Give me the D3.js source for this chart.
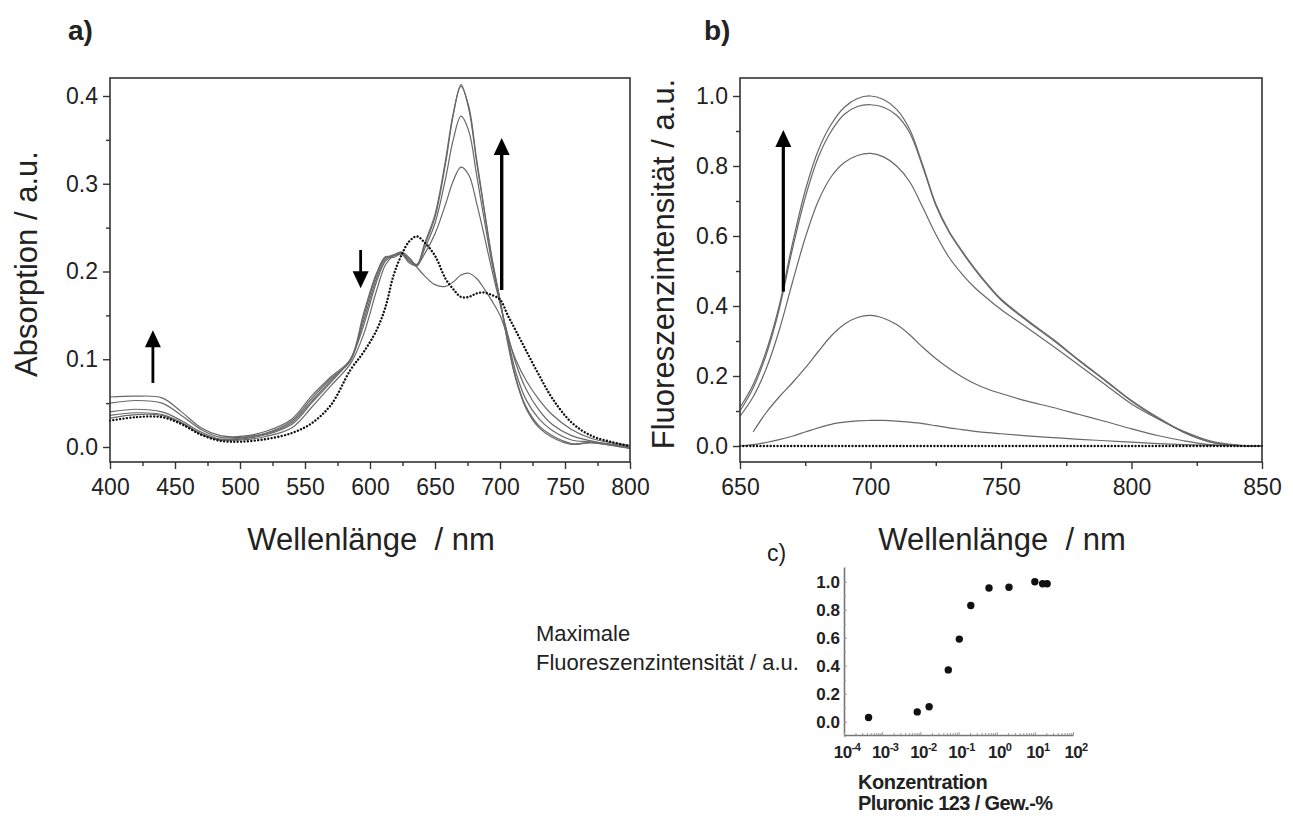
<!DOCTYPE html>
<html>
<head>
<meta charset="utf-8">
<script src="https://cdn.jsdelivr.net/npm/d3@7"></script>
<style>
  body { margin: 0; background: #fff; }
  svg text { font-family: "Liberation Sans", Arial, sans-serif; fill: #222; }
</style>
</head>
<body>
<div id="chart"></div>
<script>
// ---- data: panel a (absorption) ----
var absWl = [400,420,440,455,470,485,500,520,540,555,570,585,595,605,612,618,624,630,636,642,
             650,658,664,670,676,682,688,694,700,706,712,720,730,740,755,770,785,800];
var absDotted = [0.030,0.034,0.034,0.026,0.014,0.007,0.006,0.009,0.016,0.027,0.048,0.088,0.108,0.133,0.160,0.195,0.218,0.234,0.240,0.233,
                 0.218,0.192,0.180,0.171,0.171,0.175,0.176,0.173,0.168,0.150,0.133,0.110,0.082,0.056,0.028,0.013,0.006,0.001];
var absS1 = [0.033,0.037,0.036,0.027,0.015,0.008,0.008,0.012,0.022,0.045,0.070,0.095,0.128,0.178,0.208,0.218,0.222,0.216,0.205,0.195,
             0.185,0.183,0.188,0.196,0.198,0.192,0.180,0.166,0.150,0.125,0.100,0.076,0.054,0.037,0.020,0.010,0.005,0.002];
var absS2 = [0.036,0.039,0.037,0.028,0.015,0.008,0.009,0.014,0.026,0.050,0.074,0.100,0.138,0.188,0.212,0.218,0.220,0.214,0.208,0.220,
             0.243,0.276,0.303,0.319,0.310,0.278,0.240,0.200,0.163,0.128,0.096,0.066,0.042,0.026,0.013,0.007,0.003,0.001];
var absS3 = [0.040,0.043,0.040,0.030,0.017,0.009,0.010,0.015,0.028,0.052,0.076,0.100,0.143,0.192,0.214,0.219,0.221,0.215,0.206,0.226,
             0.255,0.305,0.350,0.377,0.360,0.310,0.258,0.208,0.166,0.124,0.086,0.054,0.032,0.019,0.008,0.006,0.003,0.000];
var absS4 = [0.050,0.053,0.050,0.036,0.020,0.011,0.011,0.016,0.030,0.055,0.078,0.098,0.148,0.196,0.216,0.218,0.222,0.212,0.208,0.230,
             0.262,0.322,0.378,0.413,0.385,0.325,0.268,0.212,0.168,0.120,0.080,0.046,0.024,0.013,0.004,0.005,0.002,-0.001];
var absS5 = [0.057,0.058,0.056,0.040,0.022,0.013,0.012,0.018,0.032,0.058,0.080,0.100,0.152,0.198,0.217,0.216,0.220,0.210,0.207,0.232,
             0.265,0.326,0.380,0.411,0.388,0.328,0.270,0.214,0.168,0.118,0.078,0.044,0.022,0.011,0.003,0.005,0.002,-0.002];

// ---- data: panel b (fluorescence) ----
var fluWl = [650,655,660,665,670,675,680,685,690,695,700,705,710,715,720,725,730,735,740,745,750,760,770,780,790,800,810,820,830,840,850];
var fluDotted = [0,0,0,0,0,0,0,0,0,0,0,0,0,0,0,0,0,0,0,0,0,0,0,0,0,0,0,0,0,0,0];
var fluS1 = [0.000,0.004,0.010,0.018,0.028,0.040,0.052,0.062,0.068,0.072,0.073,0.073,0.071,0.068,0.064,0.058,0.052,0.047,0.042,0.038,
             0.035,0.029,0.024,0.019,0.015,0.011,0.007,0.004,0.002,0.001,0.000];
var fluS2 = [null,0.040,0.095,0.140,0.180,0.223,0.270,0.315,0.348,0.367,0.373,0.365,0.347,0.318,0.282,0.250,0.222,0.198,0.178,0.162,
             0.150,0.128,0.110,0.090,0.070,0.049,0.030,0.015,0.004,0.001,0.000];
var fluS3 = [0.085,0.140,0.220,0.330,0.465,0.595,0.700,0.770,0.810,0.830,0.836,0.826,0.800,0.755,0.682,0.605,0.540,0.492,0.452,0.420,
             0.390,0.338,0.285,0.230,0.175,0.120,0.078,0.042,0.015,0.003,0.000];
var fluS4 = [0.100,0.165,0.260,0.390,0.560,0.710,0.825,0.900,0.948,0.970,0.975,0.968,0.945,0.895,0.798,0.688,0.612,0.555,0.504,0.458,
             0.417,0.357,0.302,0.243,0.186,0.128,0.080,0.039,0.012,0.002,0.000];
var fluS5 = [0.110,0.175,0.270,0.400,0.575,0.730,0.845,0.920,0.968,0.993,1.000,0.990,0.962,0.905,0.803,0.692,0.615,0.558,0.507,0.461,
             0.420,0.360,0.305,0.245,0.188,0.130,0.082,0.040,0.012,0.002,0.000];

// ---- data: panel c (max intensity vs concentration) ----
var concVals = [0.00044,0.0083,0.017,0.054,0.105,0.21,0.63,2.1,10,16,21];
var maxFluVals = [0.03,0.07,0.107,0.37,0.59,0.83,0.955,0.96,1.0,0.985,0.985];

// ---- tick labels ----
var absXTicks = [400,450,500,550,600,650,700,750,800];
var absXMinor = [425,475,525,575,625,675,725,775];
var absYTicks = [0.0,0.1,0.2,0.3,0.4];
var absYMinor = [0.05,0.15,0.25,0.35];
var fluXTicks = [650,700,750,800,850];
var fluXMinor = [675,725,775,825];
var fluYTicks = [0.0,0.2,0.4,0.6,0.8,1.0];
var fluYMinor = [0.1,0.3,0.5,0.7,0.9];
var concXTicks = [1e-4,1e-3,1e-2,1e-1,1,10,100];
var concXExp = ["-4","-3","-2","-1","0","1","2"];
var concYTicks = [0.0,0.2,0.4,0.6,0.8,1.0];
var concYMinor = [-0.1,0.1,0.3,0.5,0.7,0.9];

//Set up the svg canvas:
var svg = d3.select("#chart")
    .append("svg")
    .attr("width", 1293)
    .attr("height", 817);

var frameColor = "#333";
var curveColor = "#686868";

//Draws one of the two spectra panels (frame, axes, curves):
function drawSpectra(x, y, wl, solids, dotted, xt, xm, yt, ym, yTitle, yTitleX) {
    var g = svg.append("g");
    var x0 = x.range()[0], x1 = x.range()[1];
    var y0 = y.range()[0], y1 = y.range()[1];

    var bottom = d3.axisBottom(x).tickValues(xt).tickSize(7).tickSizeOuter(0).tickPadding(10).tickFormat(d3.format("d"));
    var bottomMinor = d3.axisBottom(x).tickValues(xm).tickSize(4).tickSizeOuter(0).tickFormat("");
    var left = d3.axisLeft(y).tickValues(yt).tickSize(7).tickSizeOuter(0).tickPadding(5).tickFormat(d3.format(".1f"));
    var leftMinor = d3.axisLeft(y).tickValues(ym).tickSize(4).tickSizeOuter(0).tickFormat("");

    [[bottom, "translate(0," + y0 + ")"], [bottomMinor, "translate(0," + y0 + ")"],
     [left, "translate(" + x0 + ",0)"], [leftMinor, "translate(" + x0 + ",0)"]].forEach(function(a) {
        var ax = g.append("g").attr("transform", a[1]).call(a[0]);
        ax.select(".domain").remove();
        ax.selectAll("line").attr("stroke", frameColor).attr("stroke-width", 1.4);
        ax.selectAll("text").attr("font-size", 23).attr("font-family", null).attr("fill", "#222");
    });

    var line = d3.line()
        .defined(d => d[1] !== null)
        .x(d => x(d[0]))
        .y(d => y(d[1]))
        .curve(d3.curveCatmullRom.alpha(0.5));

    solids.forEach(function(s) {
        g.append("path")
            .attr("d", line(d3.zip(wl, s)))
            .attr("fill", "none")
            .attr("stroke", curveColor)
            .attr("stroke-width", 1.2);
    });

    g.append("path")
        .attr("d", line(d3.zip(wl, dotted)))
        .attr("fill", "none")
        .attr("stroke", "#111")
        .attr("stroke-width", 2.4)
        .attr("stroke-linecap", "round")
        .attr("stroke-dasharray", "0.01 3.4");

    g.append("rect")
        .attr("x", x0).attr("y", y1)
        .attr("width", x1 - x0).attr("height", y0 - y1)
        .attr("fill", "none")
        .attr("stroke", frameColor)
        .attr("stroke-width", 1.6);

    g.append("text")
        .attr("x", (x0 + x1) / 2 + 1)
        .attr("y", 550)
        .attr("text-anchor", "middle")
        .attr("font-size", 31)
        .style("white-space", "pre")
        .text("Wellenlänge  / nm");

    g.append("text")
        .attr("transform", "translate(" + yTitleX + "," + ((y0 + y1) / 2 - 6) + ") rotate(-90)")
        .attr("text-anchor", "middle")
        .attr("font-size", 31)
        .text(yTitle);
    return g;
}

//Arrow helper (data coordinates through the scales):
function drawArrow(g, x, y, wl, from, to, shaft) {
    var px = x(wl), pFrom = y(from), pTo = y(to);
    var dir = pTo < pFrom ? 1 : -1;   // 1 = pointing up
    var head = 17, half = 8;
    g.append("line")
        .attr("x1", px).attr("x2", px)
        .attr("y1", pFrom).attr("y2", pTo + dir * head * 0.8)
        .attr("stroke", "#000")
        .attr("stroke-width", shaft);
    g.append("path")
        .attr("d", "M" + px + "," + pTo + "L" + (px - half) + "," + (pTo + dir * head) + "L" + (px + half) + "," + (pTo + dir * head) + "Z")
        .attr("fill", "#000");
}

// ---- panel a ----
var xA = d3.scaleLinear().domain([400, 800]).range([110, 630]);
var yA = d3.scaleLinear().domain([-0.0171, 0.4205]).range([462, 78]);
var gA = drawSpectra(xA, yA, absWl, [absS1, absS2, absS3, absS4, absS5], absDotted,
    absXTicks, absXMinor, absYTicks, absYMinor, "Absorption / a.u.", 37);
drawArrow(gA, xA, yA, 433, 0.073, 0.133, 2.8);
drawArrow(gA, xA, yA, 592.8, 0.2245, 0.181, 2.8);
drawArrow(gA, xA, yA, 701.3, 0.179, 0.352, 3.4);

// ---- panel b ----
var xB = d3.scaleLinear().domain([650, 850]).range([740, 1262]);
var yB = d3.scaleLinear().domain([-0.0457, 1.0514]).range([462, 78]);
var gB = drawSpectra(xB, yB, fluWl, [fluS1, fluS2, fluS3, fluS4, fluS5], fluDotted,
    fluXTicks, fluXMinor, fluYTicks, fluYMinor, "Fluoreszenzintensität / a.u.", 674);
drawArrow(gB, xB, yB, 666.6, 0.441, 0.903, 3.2);

// panel letters
svg.append("text").attr("x", 68).attr("y", 40).attr("font-size", 28).attr("font-weight", "bold").text("a)");
svg.append("text").attr("x", 704).attr("y", 40).attr("font-size", 28).attr("font-weight", "bold").text("b)");
svg.append("text").attr("x", 767).attr("y", 561).attr("font-size", 23).text("c)");

// ---- panel c ----
var xC = d3.scaleLog().domain([1e-4, 1e2]).range([844, 1073]);
var yC = d3.scaleLinear().domain([-0.095, 1.105]).range([735, 567]);
var gC = svg.append("g");

var cLeft = gC.append("g").attr("transform", "translate(844,0)")
    .call(d3.axisLeft(yC).tickValues(concYTicks).tickSize(-3).tickSizeOuter(0).tickPadding(4).tickFormat(d3.format(".1f")));
var cLeftMinor = gC.append("g").attr("transform", "translate(844,0)")
    .call(d3.axisLeft(yC).tickValues(concYMinor).tickSize(-2).tickSizeOuter(0).tickFormat(""));
cLeftMinor.select(".domain").remove();

var minorLog = xC.ticks().filter(v => concXTicks.indexOf(v) < 0);
var cBottom = gC.append("g").attr("transform", "translate(0,735)")
    .call(d3.axisBottom(xC).tickValues(concXTicks).tickSize(-3).tickSizeOuter(0).tickFormat(""));
var cBottomMinor = gC.append("g").attr("transform", "translate(0,735)")
    .call(d3.axisBottom(xC).tickValues(minorLog).tickSize(-2).tickSizeOuter(0).tickFormat(""));
cBottomMinor.select(".domain").remove();

gC.selectAll(".domain").attr("stroke", "#777").attr("stroke-width", 1.6);
gC.selectAll(".tick line").attr("stroke", "#999").attr("stroke-width", 1);
cLeft.selectAll("text").attr("font-size", 17).attr("font-weight", "bold").attr("font-family", null).attr("fill", "#222");

var cLabels = gC.selectAll("text.xlab")
    .data(concXTicks)
    .enter()
    .append("text")
    .attr("class", "xlab")
    .attr("x", d => xC(d) + 3)
    .attr("y", 758)
    .attr("text-anchor", "middle")
    .attr("font-size", 17)
    .attr("font-weight", "bold")
    .attr("letter-spacing", -0.6);
cLabels.append("tspan").text("10");
cLabels.append("tspan")
    .attr("dy", -7)
    .attr("font-size", 11)
    .text((d, i) => concXExp[i]);

gC.selectAll("circle")
    .data(d3.zip(concVals, maxFluVals))
    .enter()
    .append("circle")
    .attr("cx", d => xC(d[0]))
    .attr("cy", d => yC(d[1]))
    .attr("r", 3.7)
    .attr("fill", "#111");

svg.append("text").attr("x", 536).attr("y", 641).attr("font-size", 22).text("Maximale");
svg.append("text").attr("x", 536).attr("y", 670).attr("font-size", 22).text("Fluoreszenzintensität / a.u.");
svg.append("text").attr("x", 858).attr("y", 789).attr("font-size", 20).attr("font-weight", "bold")
    .attr("letter-spacing", -0.4).text("Konzentration");
svg.append("text").attr("x", 858).attr("y", 810).attr("font-size", 20).attr("font-weight", "bold")
    .attr("letter-spacing", -0.6).text("Pluronic 123 / Gew.-%");
</script>
</body>
</html>
